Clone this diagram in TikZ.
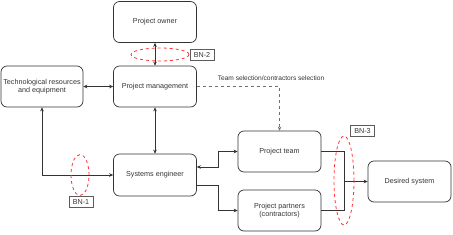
\documentclass[tikz,border=0pt]{standalone}
\usepackage{fontspec}
\setmainfont{Liberation Sans}
\usetikzlibrary{arrows.meta,shapes.geometric}
\definecolor{ln}{HTML}{333333}
\definecolor{bnred}{HTML}{FF3333}
\begin{document}
\begin{tikzpicture}[x=1pt,y=-1pt,
  font=\fontsize{7.2}{8.6}\selectfont,
  box/.style={draw=ln,line width=0.7pt,rounded corners=6pt,minimum width=83pt,minimum height=41pt,inner sep=1pt,align=center,text=ln},
  conn/.style={draw=ln,line width=0.6pt},
  tip/.style={-{Stealth[length=4pt,width=3.6pt]}},
  dtip/.style={{Stealth[length=4pt,width=3.6pt]}-{Stealth[length=4pt,width=3.6pt]}},
  bnlab/.style={draw=ln!80,line width=0.6pt,minimum width=24pt,minimum height=11pt,inner sep=1pt,text=ln},
  bnell/.style={ellipse,draw=bnred,dashed,line width=0.8pt,inner sep=0pt}
]
\useasboundingbox (0,0) rectangle (453,234);
\node[box] (owner) at (155,22) {Project owner};
\node[box] (pm) at (155,86.5) {Project management};
\node[box,minimum width=82pt] (tech) at (42,86.5) {Technological resources\\and equipment};
\node[box,minimum height=42pt] (se) at (155,175) {Systems engineer};
\node[box] (team) at (279.5,151.5) {Project team};
\node[box] (partners) at (279.5,210.5) {Project partners\\(contractors)};
\node[box] (desired) at (409.5,181.5) {Desired system};
\coordinate (merge) at (344,181.5);

\node[font=\fontsize{6.6}{8}\selectfont,text=ln] (tslab) at (271,78) {Team selection/contractors selection};

\draw[conn,dtip] (owner.south) -- (pm.north);
\draw[conn,dtip] (tech.east) -- (pm.west);
\draw[conn,dtip] (pm.south) -- (se.north);
\draw[conn,dtip] (tech.south) |- (se.west);
\draw[draw=ln!70,line width=0.5pt,dashed,tip] (pm.east) -| (team.north);
\draw[conn,dtip] ([yshift=8pt]se.east) -- ++(21,0) |- (team.west);
\draw[conn,tip] ([yshift=-10pt]se.east) -- ++(21,0) |- (partners.west);
\draw[conn] (team.east) -| (merge);
\draw[conn] (partners.east) -| (merge);
\draw[conn,tip] (merge) -- (desired.west);

\node[bnell,minimum width=58pt,minimum height=13pt] (e2) at (160,54.5) {};
\node[bnell,minimum width=18pt,minimum height=41pt] (e1) at (80,175) {};
\node[bnell,minimum width=20pt,minimum height=89pt] (e3) at (344,180.5) {};
\node[bnlab] (bn2) at (202,54.5) {BN-2};
\node[bnlab] (bn1) at (81,202) {BN-1};
\node[bnlab] (bn3) at (362.5,131) {BN-3};
\end{tikzpicture}
\end{document}
